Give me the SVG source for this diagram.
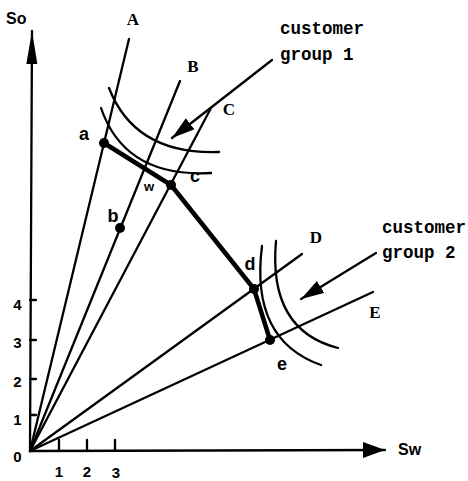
<svg xmlns="http://www.w3.org/2000/svg" width="468" height="481" viewBox="0 0 468 481">
<style>
.ln{stroke:#000;stroke-width:2.3;fill:none;stroke-linecap:round}
.thick{stroke:#000;stroke-width:4.5;fill:none;stroke-linecap:round;stroke-linejoin:round}
.cap{font-family:"Liberation Serif",serif;font-weight:bold;font-size:17px;fill:#000}
.lc{font-family:"Liberation Sans",sans-serif;font-weight:bold;font-size:18px;fill:#000}
.num{font-family:"Liberation Sans",sans-serif;font-weight:bold;font-size:15px;fill:#000}
.ax{font-family:"Liberation Sans",sans-serif;font-weight:bold;font-size:16px;fill:#000}
.mono{font-family:"Liberation Mono",monospace;font-weight:bold;font-size:17.5px;fill:#000}
</style>
<defs>
<marker id="arrY" markerUnits="userSpaceOnUse" markerWidth="34" markerHeight="12" refX="33" refY="6" orient="auto"><path d="M0,0.5 L33,6 L0,11.5 z" fill="#000"/></marker>
<marker id="arrX" markerUnits="userSpaceOnUse" markerWidth="23" markerHeight="17" refX="22" refY="8" orient="auto"><path d="M0,0 L22,8 L0,16 z" fill="#000"/></marker>
<marker id="arrG" markerUnits="userSpaceOnUse" markerWidth="24" markerHeight="15" refX="23" refY="7" orient="auto"><path d="M0,0 L23,7 L0,14 z" fill="#000"/></marker>
</defs>
<g id="axes">
<line class="ln" x1="30" y1="451" x2="32" y2="31" marker-end="url(#arrY)"/>
<line class="ln" x1="30" y1="451" x2="385" y2="450" marker-end="url(#arrX)"/>
<path class="ln" d="M30,300 H36 M30,340 H36 M30,379 H36 M30,415 H36 M59,440 V451 M87,440 V451 M115,440 V451"/>
<text class="ax" x="6" y="24">So</text>
<text class="ax" x="398" y="455">Sw</text>
<text class="num" x="17.5" y="310" text-anchor="middle">4</text>
<text class="num" x="17.5" y="348" text-anchor="middle">3</text>
<text class="num" x="17.5" y="387" text-anchor="middle">2</text>
<text class="num" x="17.5" y="425" text-anchor="middle">1</text>
<text class="num" x="17.5" y="462" text-anchor="middle">0</text>
<text class="num" x="59" y="477" text-anchor="middle">1</text>
<text class="num" x="87" y="477" text-anchor="middle">2</text>
<text class="num" x="116" y="478" text-anchor="middle">3</text>
</g>
<g id="connectors">
<line class="ln" x1="30" y1="451" x2="129" y2="39"/>
<line class="ln" x1="30" y1="451" x2="180" y2="81"/>
<line class="ln" x1="30" y1="451" x2="211" y2="108"/>
<line class="ln" x1="30" y1="451" x2="302" y2="254"/>
<line class="ln" x1="30" y1="451" x2="373" y2="292"/>
<polyline class="thick" points="104,143 171,185 254,289 270,340"/>
<path class="ln" d="M109,88 Q135,155 219,152"/>
<path class="ln" d="M101,108 Q125,178 211,173"/>
<path class="ln" d="M262,246 Q250,340 321,365"/>
<path class="ln" d="M276,241 Q268,330 338,348"/>
<line class="ln" x1="272" y1="60" x2="172" y2="138" marker-end="url(#arrG)"/>
<line class="ln" x1="376" y1="253" x2="301" y2="299" marker-end="url(#arrG)"/>
</g>
<g id="ray-labels">
<text class="cap" x="133" y="25" text-anchor="middle">A</text>
<text class="cap" x="193" y="72" text-anchor="middle">B</text>
<text class="cap" x="229" y="115" text-anchor="middle">C</text>
<text class="cap" x="316" y="243" text-anchor="middle">D</text>
<text class="cap" x="375" y="318" text-anchor="middle">E</text>
</g>
<g id="node-a"><circle cx="104" cy="143" r="5"/><text class="lc" x="84" y="140" text-anchor="middle">a</text></g>
<g id="node-b"><circle cx="120" cy="228" r="5"/><text class="lc" x="113" y="222" text-anchor="middle">b</text></g>
<g id="node-w"><text class="lc" x="149" y="191" text-anchor="middle" style="font-size:13px">w</text></g>
<g id="node-c"><circle cx="171" cy="185" r="5"/><text class="lc" x="195" y="182" text-anchor="middle">c</text></g>
<g id="node-d"><circle cx="254" cy="289" r="5"/><text class="lc" x="250" y="270" text-anchor="middle">d</text></g>
<g id="node-e"><circle cx="270" cy="340" r="5"/><text class="lc" x="282" y="370" text-anchor="middle">e</text></g>
<g id="group1"><text class="mono" x="280" y="34">customer</text><text class="mono" x="280" y="60">group 1</text></g>
<g id="group2"><text class="mono" x="382" y="233">customer</text><text class="mono" x="382" y="258">group 2</text></g>
</svg>
